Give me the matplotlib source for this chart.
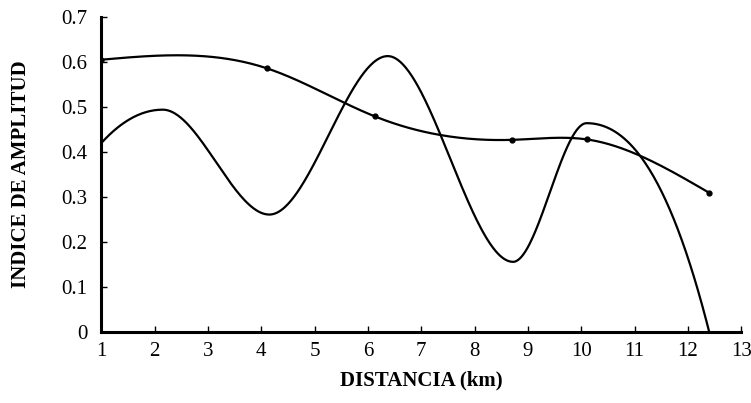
import numpy as np
import matplotlib
matplotlib.use("Agg")
import matplotlib.pyplot as plt

# smooth curve with markers
dist_a = [1.0, 4.1, 6.13, 8.71, 10.1, 12.39]
amp_a = [0.605, 0.586, 0.479, 0.427, 0.428, 0.31]

# wavy curve (no markers), knots at its extrema
dist_b = [1.0, 2.15, 4.15, 6.37, 8.72, 10.1, 12.4]
amp_b = [0.42, 0.494, 0.261, 0.613, 0.156, 0.464, 0.0]

x_ticks = list(range(1, 14))
y_ticks = [0, 0.1, 0.2, 0.3, 0.4, 0.5, 0.6, 0.7]


def natural_spline(x, y, xs):
    x = np.asarray(x, float); y = np.asarray(y, float)
    n = len(x)
    h = np.diff(x)
    A = np.zeros((n, n)); r = np.zeros(n)
    A[0, 0] = A[-1, -1] = 1
    for i in range(1, n - 1):
        A[i, i - 1] = h[i - 1]
        A[i, i] = 2 * (h[i - 1] + h[i])
        A[i, i + 1] = h[i]
        r[i] = 6 * ((y[i + 1] - y[i]) / h[i] - (y[i] - y[i - 1]) / h[i - 1])
    M = np.linalg.solve(A, r)
    k = np.clip(np.searchsorted(x, xs) - 1, 0, n - 2)
    t1 = x[k + 1] - xs; t0 = xs - x[k]; hk = h[k]
    return (M[k] * t1**3 / (6 * hk) + M[k + 1] * t0**3 / (6 * hk)
            + (y[k] / hk - M[k] * hk / 6) * t1 + (y[k + 1] / hk - M[k + 1] * hk / 6) * t0)


def pchip(x, y, xs):
    x = np.asarray(x, float); y = np.asarray(y, float)
    h = np.diff(x); d = np.diff(y) / h
    m = np.zeros(len(x))
    for i in range(1, len(x) - 1):
        if d[i - 1] * d[i] > 0:
            w1 = 2 * h[i] + h[i - 1]; w2 = h[i] + 2 * h[i - 1]
            m[i] = (w1 + w2) / (w1 / d[i - 1] + w2 / d[i])
    m[0] = ((2 * h[0] + h[1]) * d[0] - h[0] * d[1]) / (h[0] + h[1])
    m[-1] = ((2 * h[-1] + h[-2]) * d[-1] - h[-1] * d[-2]) / (h[-1] + h[-2])
    k = np.clip(np.searchsorted(x, xs) - 1, 0, len(x) - 2)
    t = (xs - x[k]) / h[k]
    h00 = 2 * t**3 - 3 * t**2 + 1; h10 = t**3 - 2 * t**2 + t
    h01 = -2 * t**3 + 3 * t**2; h11 = t**3 - t**2
    return h00 * y[k] + h10 * h[k] * m[k] + h01 * y[k + 1] + h11 * h[k] * m[k + 1]


plt.rcParams['font.family'] = ['Liberation Serif', 'DejaVu Serif']

fig = plt.figure(figsize=(7.51, 4.03), dpi=100)
ax = fig.add_axes([0.135, 0.176, 0.852, 0.782])

xa = np.linspace(dist_a[0], dist_a[-1], 400)
ax.plot(xa, natural_spline(dist_a, amp_a, xa), color='black', lw=1.6)
ax.plot(dist_a, amp_a, 'o', color='black', ms=3.5)

xb = np.linspace(dist_b[0], dist_b[-1], 600)
ax.plot(xb, pchip(dist_b, amp_b, xb), color='black', lw=1.6)

ax.set_xlim(1, 13)
ax.set_ylim(0, 0.7)
ax.set_xticks(x_ticks)
ax.set_xticklabels([str(v) for v in x_ticks])
ax.set_yticks(y_ticks)
ax.set_yticklabels(['0'] + [f'{v:.1f}' for v in y_ticks[1:]])
ax.tick_params(axis='both', direction='in', length=4, width=1, labelsize=15, pad=7)
ax.tick_params(axis='y', pad=10)

for s in ['top', 'right']:
    ax.spines[s].set_visible(False)
for s in ['left', 'bottom']:
    ax.spines[s].set_linewidth(2.2)

ax.set_xlabel('DISTANCIA (km)', fontsize=15, fontweight='bold', labelpad=7)
ax.set_ylabel('INDICE DE AMPLITUD', fontsize=15, fontweight='bold', labelpad=22)

fig.savefig('out.png', dpi=100)
